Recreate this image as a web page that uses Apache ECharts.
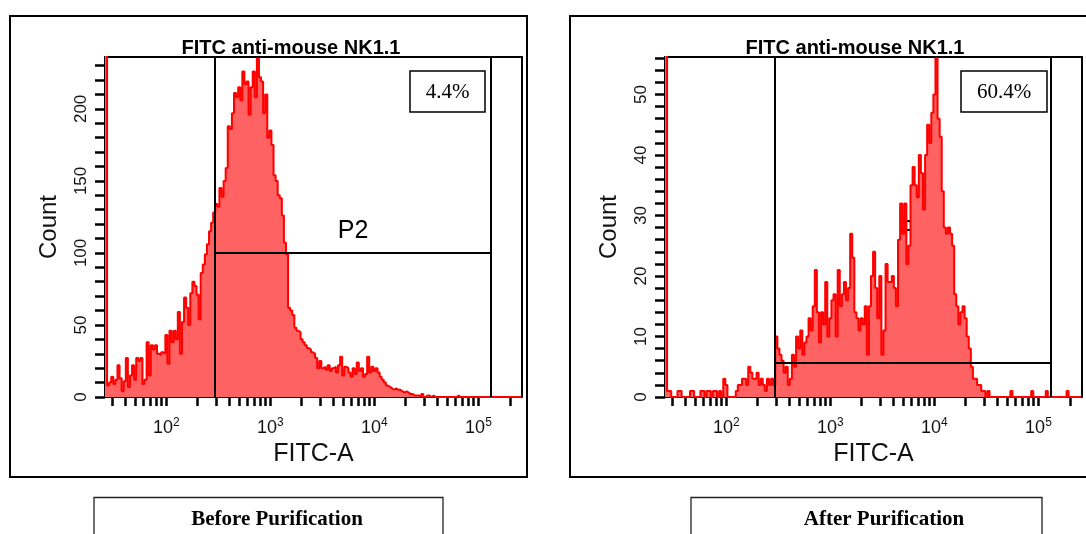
<!DOCTYPE html>
<html>
<head>
<meta charset="utf-8">
<script src="https://cdn.jsdelivr.net/npm/echarts@6/dist/echarts.min.js"></script>
<style>
  html, body { margin: 0; padding: 0; background: #fff; }
  #chart { width: 1086px; height: 534px; }
</style>
</head>
<body>
<div id="chart"></div>
<script>
// FITC-A channel binning: 200 log bins of 0.02 decade from 10^1.41 up to the 262144 ceiling
const LOG_MIN = 1.41;
const LOG_MAX = Math.log10(262144);
const BIN_WIDTH = 0.02;

// Event counts per bin, before purification (first bin holds the off-scale pile-up)
const beforeCounts = [
  260, 8, 10, 14, 9, 12, 22, 13, 4, 11,
  27, 7, 15, 22, 12, 27, 25, 27, 9, 12,
  38, 15, 36, 33, 36, 30, 29, 31, 30, 43,
  23, 46, 38, 46, 40, 59, 30, 52, 69, 62,
  50, 72, 80, 77, 71, 54, 86, 92, 99, 106,
  115, 121, 128, 134, 132, 145, 139, 150, 159, 188,
  186, 197, 211, 208, 215, 206, 226, 217, 219, 196,
  215, 226, 208, 235, 222, 219, 197, 210, 180, 185,
  175, 154, 150, 140, 138, 126, 107, 99, 62, 60,
  57, 48, 46, 45, 40, 38, 36, 34, 33, 31,
  30, 27, 20, 25, 20, 21, 19, 22, 18, 20,
  21, 17, 22, 28, 15, 21, 20, 17, 14, 20,
  16, 24, 18, 20, 14, 16, 28, 17, 21, 18,
  20, 17, 14, 12, 10, 8, 7, 6, 5, 6,
  5, 5, 4, 3, 4, 3, 2, 2, 1, 1,
  1, 0, 2, 0, 1, 1, 0, 1, 0, 0,
  0, 0, 0, 0, 0, 0, 0, 0, 0, 1,
  0, 0, 0, 0, 0, 0, 0, 0, 0, 0,
  0, 0, 0, 0, 0, 0, 0, 0, 0, 0,
  0, 0, 0, 0, 0, 0, 0, 0, 0, 0
];

// Event counts per bin, after purification
const afterCounts = [
  80, 1, 1, 0, 0, 0, 1, 1, 0, 0,
  0, 0, 1, 1, 0, 0, 0, 1, 1, 0,
  1, 1, 0, 1, 1, 0, 1, 0, 3, 2,
  0, 0, 0, 0, 1, 2, 2, 3, 3, 2,
  5, 4, 3, 3, 4, 2, 3, 2, 1, 3,
  2, 3, 2, 10, 8, 7, 6, 4, 5, 2,
  3, 7, 5, 10, 8, 11, 7, 9, 10, 13,
  11, 15, 21, 14, 9, 14, 12, 19, 10, 13,
  16, 17, 10, 21, 15, 17, 19, 16, 18, 27,
  23, 14, 13, 11, 13, 12, 15, 7, 15, 20,
  24, 18, 13, 20, 7, 11, 22, 19, 19, 20,
  18, 15, 26, 32, 27, 32, 22, 25, 35, 38,
  35, 33, 40, 37, 31, 40, 45, 42, 47, 50,
  56, 46, 43, 34, 28, 27, 28, 27, 25, 17,
  15, 12, 14, 15, 13, 10, 8, 5, 3, 3,
  2, 2, 1, 1, 0, 1, 0, 0, 0, 0,
  0, 0, 0, 0, 0, 0, 1, 0, 0, 0,
  0, 0, 0, 0, 0, 0, 1, 0, 0, 0,
  0, 0, 0, 1, 0, 0, 0, 0, 0, 0,
  0, 0, 0, 1, 0, 0, 0, 0, 0, 0
];

// Axis labelling
const decadeLabels = [2, 3, 4, 5];           // shown as 10^n
const beforeCountLabels = [0, 50, 100, 150, 200];
const afterCountLabels = [0, 10, 20, 30, 40, 50];
const beforeCountMax = 236;
const afterCountMax = 56.2;

// P2 gate: FITC-A interval and marker level
const gateLow = 291;
const gateHigh = 132700;
const beforeGateLevel = 100;
const afterGateLevel = 5.7;

// Panel texts
const plotTitle = 'FITC anti-mouse NK1.1';
const gateName = 'P2';
const beforePercent = '4.4%';
const afterPercent = '60.4%';
const beforeCaption = 'Before Purification';
const afterCaption = 'After Purification';

// ---------------------------------------------------------------
const SANS = '"Liberation Sans", Arial, Helvetica, sans-serif';
const SERIF = '"Liberation Serif", "Times New Roman", serif';

// log-axis minor/major tick positions (in decades)
const xTickValues = [];
for (let d = 1; d <= 5; d++) {
  for (let k = 1; k <= 9; k++) {
    const v = d + Math.log10(k);
    if (v >= LOG_MIN && v <= LOG_MAX) xTickValues.push(v);
  }
}
function stepTicks(step, max) {
  const out = [];
  for (let v = 0; v <= max + 1e-9; v += step) out.push(+v.toFixed(6));
  return out;
}

function histogramData(counts) {
  const pts = counts.map((c, i) => [LOG_MIN + i * BIN_WIDTH, c]);
  pts.push([LOG_MIN + counts.length * BIN_WIDTH, counts[counts.length - 1]]);
  return pts;
}

const panels = [
  { grid: { left: 105, top: 57, width: 417, height: 340 },
    counts: beforeCounts, ymax: beforeCountMax, labels: beforeCountLabels,
    ticks: stepTicks(10, 230), level: beforeGateLevel },
  { grid: { left: 665, top: 57, width: 417, height: 340 },
    counts: afterCounts, ymax: afterCountMax, labels: afterCountLabels,
    ticks: stepTicks(2, 56), level: afterGateLevel }
];

const grids = [], xAxes = [], yAxes = [], series = [];
panels.forEach((p, k) => {
  grids.push(Object.assign({ show: true, borderColor: '#000', borderWidth: 2,
                             backgroundColor: 'transparent' }, p.grid));
  xAxes.push({
    gridIndex: k, type: 'value', min: LOG_MIN, max: LOG_MAX,
    axisLine: { show: false }, splitLine: { show: false },
    axisTick: { show: true, length: 9, customValues: xTickValues,
                lineStyle: { color: '#000', width: 2.5 } },
    axisLabel: {
      customValues: decadeLabels, margin: 20, color: '#111',
      formatter: v => '{b|10}{s|' + Math.round(v) + '}',
      rich: {
        b: { fontSize: 18, lineHeight: 22, fontFamily: SANS, color: '#111' },
        s: { fontSize: 12, lineHeight: 11, verticalAlign: 'top', fontFamily: SANS, color: '#111' }
      }
    },
    name: 'FITC-A', nameLocation: 'middle', nameGap: 45,
    nameTextStyle: { fontSize: 25, fontFamily: SANS, color: '#111' }
  });
  yAxes.push({
    gridIndex: k, type: 'value', min: 0, max: p.ymax,
    axisLine: { show: false }, splitLine: { show: false },
    axisTick: { show: true, length: 10, customValues: p.ticks,
                lineStyle: { color: '#000', width: 2.5 } },
    axisLabel: { customValues: p.labels, rotate: 90, margin: 15,
                 fontSize: 17, fontFamily: SANS, color: '#111' },
    name: 'Count', nameLocation: 'middle', nameGap: 44, nameRotate: 90,
    nameTextStyle: { fontSize: 24, fontFamily: SANS, color: '#111' }
  });
  const lo = Math.log10(gateLow), hi = Math.log10(gateHigh);
  series.push({
    type: 'line', xAxisIndex: k, yAxisIndex: k, step: 'end', symbol: 'none',
    clip: true, data: histogramData(p.counts),
    lineStyle: { color: '#ff0000', width: 2 },
    areaStyle: { color: '#ff6262', opacity: 1 },
    markLine: {
      silent: true, symbol: 'none', animation: false,
      label: { show: false },
      lineStyle: { color: '#000', width: 2, type: 'solid' },
      data: [
        [{ coord: [lo, 0] }, { coord: [lo, p.ymax] }],
        [{ coord: [hi, 0] }, { coord: [hi, p.ymax] }],
        [{ coord: [lo, p.level] }, { coord: [hi, p.level] }]
      ]
    }
  });
});

function text(x, y, str, font, align) {
  return { type: 'text', x: x, y: y, silent: true,
           style: { text: str, font: font, fill: '#000',
                    textAlign: align || 'center', textVerticalAlign: 'middle' } };
}
function box(x, y, w, h, lw, color) {
  return { type: 'rect', silent: true, shape: { x: x, y: y, width: w, height: h },
           style: { fill: 'transparent', stroke: color || '#000', lineWidth: lw } };
}

const graphics = [
  // panel frames
  box(10, 16, 517, 461, 2),
  box(570, 16, 530, 461, 2),
  // titles
  text(291, 48, plotTitle, 'bold 20px ' + SANS),
  text(855, 48, plotTitle, 'bold 20px ' + SANS),
  // gate names
  text(353, 231, gateName, '25px ' + SANS),
  text(914, 231, gateName, '25px ' + SANS),
  // gate percentages
  box(410, 71, 75, 41, 1.5),
  text(447.5, 92, beforePercent, '21px ' + SERIF),
  box(961, 71, 86, 41, 1.5),
  text(1004, 92, afterPercent, '21px ' + SERIF),
  // captions
  box(94, 497.5, 349, 60, 1.3, '#222'),
  text(277, 520, beforeCaption, 'bold 21px ' + SERIF),
  box(691, 497.5, 351, 60, 1.3, '#222'),
  text(884, 520, afterCaption, 'bold 21px ' + SERIF)
];

const chart = echarts.init(document.getElementById('chart'), null, { renderer: 'canvas' });
chart.setOption({
  animation: false,
  backgroundColor: '#fff',
  textStyle: { fontFamily: SANS },
  grid: grids,
  xAxis: xAxes,
  yAxis: yAxes,
  series: series,
  graphic: graphics
});
</script>
</body>
</html>
